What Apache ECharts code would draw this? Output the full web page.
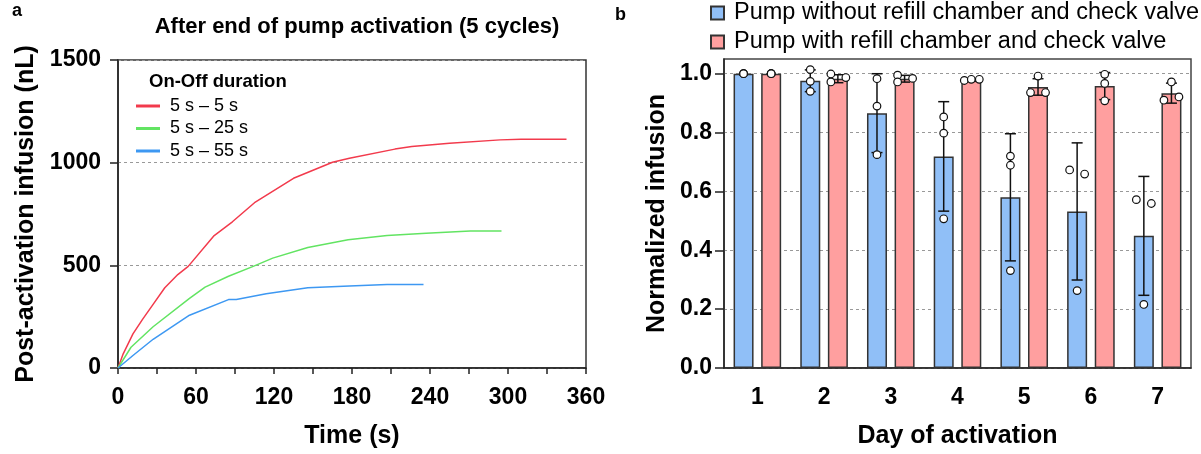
<!DOCTYPE html>
<html><head><meta charset="utf-8">
<script src="https://cdn.jsdelivr.net/npm/echarts@6/dist/echarts.min.js"></script>
<style>html,body{margin:0;padding:0;background:#fff}#c{width:1201px;height:454px}</style>
</head><body><div id="c"></div>
<script>
// ---- Panel a data: [time (s), post-activation infusion (nL)]
const seriesNamesA = ['5 s \u2013 5 s', '5 s \u2013 25 s', '5 s \u2013 55 s'];
const line5_5 = [[0,0],[4,69],[11.5,166],[19,238],[27,310],[36,391],[46,455],[54,495],[74,645],[88,712],[105,805],[135,924],[165,1002],[178,1021],[213,1066],[226,1079],[255,1095],[294,1111],[310,1114],[345,1114]];
const line5_25 = [[0,0],[10,101],[27,201],[55,339],[67,394],[85,447],[104,495],[119,535],[146,587],[177,625],[207,645],[237,656],[271,667],[295,667]];
const line5_55 = [[0,0],[11.5,61],[27,140],[55,257],[85,333],[91,334],[114,362],[146,391],[178,399],[207,407],[235,407]];
const yTicksA = [0, 500, 1000, 1500];

// ---- Panel b data
const days = ['1','2','3','4','5','6','7'];
const seriesNamesB = ['Pump without refill chamber and check valve', 'Pump with refill chamber and check valve'];
const blueMean = [1.0, 0.976, 0.866, 0.719, 0.580, 0.532, 0.449];
const blueSD   = [0, 0.037, 0.134, 0.186, 0.216, 0.233, 0.202];
const redMean  = [1.0, 0.983, 0.983, 0.978, 0.955, 0.958, 0.934];
const redSD    = [0, 0.0135, 0.0115, 0.004, 0.028, 0.046, 0.034];
const bluePoints = [[1,1,1],[1.014,0.974,0.940],[0.983,0.890,0.725],[0.853,0.798,0.507],[0.720,0.689,0.331],[0.673,0.659,0.263],[0.572,0.559,0.216]];
const redPoints  = [[1,1,1],[0.999,0.972,0.987],[0.995,0.972,0.984],[0.977,0.981,0.981],[0.992,0.936,0.936],[0.998,0.967,0.908],[0.972,0.910,0.921]];
const yTicksB = [0, 0.2, 0.4, 0.6, 0.8, 1.0];

// ---- styling (not data)
const FONT = '"Liberation Sans", Arial, Helvetica, sans-serif';
const blueJitter = [[0,0,0],[0,0,0],[0,0,0],[0,0,0],[0,0,0],[-7.5,7.5,0],[-7.5,7.5,0]];
const redJitter  = [[0,0,0],[-7,-7,8],[-7,-7,8],[-7,0,8],[0,-7.5,7.5],[0,0,0],[0,-7.5,7.5]];
const BAR_W = 20, BAR_GAP_PX = 7.6;
const HALF = (BAR_W + BAR_GAP_PX) / 2;
const lineColors = ['#f23a4c', '#62e462', '#3d98f2'];
const barColors = ['#90bff7', '#ff9f9f'];
const NAME_SIZE = 25, TICK_SIZE = 23;

function errSeries(means, sds, offset) {
  return {
    type: 'custom', xAxisIndex: 1, yAxisIndex: 1, z: 5, silent: true,
    data: means.map((m, i) => [i, m - sds[i], m + sds[i], sds[i]]),
    renderItem: function (params, api) {
      if (api.value(3) <= 0) return null;
      const lo = api.coord([api.value(0), api.value(1)]);
      const hi = api.coord([api.value(0), api.value(2)]);
      const x = lo[0] + offset, cw = 5.5;
      const st = { stroke: '#111', lineWidth: 1.5 };
      return { type: 'group', children: [
        { type: 'line', shape: { x1: x, y1: lo[1], x2: x, y2: hi[1] }, style: st },
        { type: 'line', shape: { x1: x - cw, y1: hi[1], x2: x + cw, y2: hi[1] }, style: st },
        { type: 'line', shape: { x1: x - cw, y1: lo[1], x2: x + cw, y2: lo[1] }, style: st }
      ]};
    }
  };
}
function ptSeries(points, jitter, offset) {
  const data = [];
  points.forEach((arr, i) => arr.forEach((v, k) => data.push([i, v, jitter[i][k]])));
  return {
    type: 'custom', xAxisIndex: 1, yAxisIndex: 1, z: 6, silent: true,
    data: data,
    renderItem: function (params, api) {
      const p = api.coord([api.value(0), api.value(1)]);
      return { type: 'circle', shape: { cx: p[0] + offset + api.value(2), cy: p[1], r: 3.8 },
        style: { fill: '#fff', stroke: '#111', lineWidth: 1.2 } };
    }
  };
}
const nameStyle = { fontFamily: FONT, fontSize: NAME_SIZE, fontWeight: 'bold', color: '#000' };
const tickStyle = { fontFamily: FONT, fontSize: TICK_SIZE, fontWeight: 'bold', color: '#000' };
const axLine = { color: '#222', width: 1.5 };

const chart = echarts.init(document.getElementById('c'), null, { renderer: 'canvas' });
chart.setOption({
  animation: false,
  backgroundColor: '#fff',
  textStyle: { fontFamily: FONT },
  title: [{
    text: 'After end of pump activation (5 cycles)', left: 352, top: 11, textAlign: 'center',
    textStyle: { fontFamily: FONT, fontSize: 22, fontWeight: 'bold', color: '#000' }
  }],
  graphic: [
    { type: 'text', left: 12, top: 2, style: { text: 'a', font: 'bold 18px ' + FONT, fill: '#000' } },
    { type: 'text', left: 615, top: 6, style: { text: 'b', font: 'bold 18px ' + FONT, fill: '#000' } },
    { type: 'text', left: 149, top: 72, style: { text: 'On-Off duration', font: 'bold 18.5px ' + FONT, fill: '#000' } }
  ],
  legend: [{
    data: seriesNamesA, orient: 'vertical', left: 136, top: 96, icon: 'rect', padding: 0,
    itemWidth: 24, itemHeight: 3, itemGap: 2.5,
    textStyle: { fontFamily: FONT, fontSize: 18, color: '#000', lineHeight: 20, padding: [0, 0, 0, 5] }
  }, {
    data: seriesNamesB, orient: 'vertical', left: 710, top: 1, icon: 'rect', padding: 0,
    itemWidth: 13, itemHeight: 13, itemGap: 5,
    textStyle: { fontFamily: FONT, fontSize: 23.5, color: '#000', lineHeight: 24, padding: [0, 0, 0, 5] }
  }],
  grid: [
    { left: 118, right: 615, top: 60, bottom: 83, show: true, borderColor: '#333', borderWidth: 1.5, backgroundColor: 'transparent' },
    { left: 724, right: 10, top: 59, bottom: 82, show: true, borderColor: '#444', borderWidth: 1.5, backgroundColor: 'transparent' }
  ],
  xAxis: [{
    type: 'value', gridIndex: 0, min: 0, max: 360, interval: 60,
    name: 'Time (s)', nameLocation: 'middle', nameGap: 56, nameTextStyle: nameStyle,
    axisLine: { lineStyle: axLine },
    axisTick: { length: 6, lineStyle: axLine },
    minorTick: { show: true, splitNumber: 2, length: 6, lineStyle: axLine },
    axisLabel: Object.assign({ margin: 18 }, tickStyle),
    splitLine: { show: false }
  }, {
    type: 'category', gridIndex: 1, data: days,
    name: 'Day of activation', nameLocation: 'middle', nameGap: 56, nameTextStyle: nameStyle,
    axisLine: { lineStyle: axLine },
    axisTick: { alignWithLabel: true, length: 10, lineStyle: axLine },
    axisLabel: Object.assign({ margin: 18 }, tickStyle)
  }],
  yAxis: [{
    type: 'value', gridIndex: 0, min: 0, max: 1500, interval: 500,
    name: 'Post-activation infusion (nL)', nameLocation: 'middle', nameGap: 79, nameTextStyle: nameStyle,
    axisLine: { show: true, lineStyle: axLine },
    axisTick: { show: true, length: 8, lineStyle: axLine },
    axisLabel: Object.assign({ margin: 17, customValues: yTicksA, formatter: v => String(v) }, tickStyle),
    splitLine: { show: true, lineStyle: { color: '#999', width: 1, type: [3, 3] } }
  }, {
    type: 'value', gridIndex: 1, min: 0, max: 1.05, interval: 0.2,
    name: 'Normalized infusion', nameLocation: 'middle', nameGap: 54, nameTextStyle: nameStyle,
    axisLine: { show: true, lineStyle: axLine },
    axisTick: { show: true, length: 9, lineStyle: axLine, customValues: yTicksB },
    axisLabel: Object.assign({ margin: 12, customValues: yTicksB, formatter: v => v.toFixed(1) }, tickStyle),
    splitLine: { show: true, lineStyle: { color: '#999', width: 1, type: [3, 3] } }
  }],
  series: [
    { name: seriesNamesA[0], type: 'line', xAxisIndex: 0, yAxisIndex: 0, data: line5_5, showSymbol: false, symbol: 'none', color: lineColors[0], lineStyle: { width: 1.5 } },
    { name: seriesNamesA[1], type: 'line', xAxisIndex: 0, yAxisIndex: 0, data: line5_25, showSymbol: false, symbol: 'none', color: lineColors[1], lineStyle: { width: 1.5 } },
    { name: seriesNamesA[2], type: 'line', xAxisIndex: 0, yAxisIndex: 0, data: line5_55, showSymbol: false, symbol: 'none', color: lineColors[2], lineStyle: { width: 1.5 } },
    { name: seriesNamesB[0], type: 'bar', xAxisIndex: 1, yAxisIndex: 1, data: blueMean, barWidth: BAR_W, barGap: (BAR_GAP_PX / BAR_W * 100) + '%',
      itemStyle: { color: barColors[0], borderColor: '#333', borderWidth: 1.5 } },
    { name: seriesNamesB[1], type: 'bar', xAxisIndex: 1, yAxisIndex: 1, data: redMean, barWidth: BAR_W,
      itemStyle: { color: barColors[1], borderColor: '#333', borderWidth: 1.5 } },
    errSeries(blueMean, blueSD, -HALF),
    errSeries(redMean, redSD, HALF),
    ptSeries(bluePoints, blueJitter, -HALF),
    ptSeries(redPoints, redJitter, HALF)
  ]
});
</script></body></html>
